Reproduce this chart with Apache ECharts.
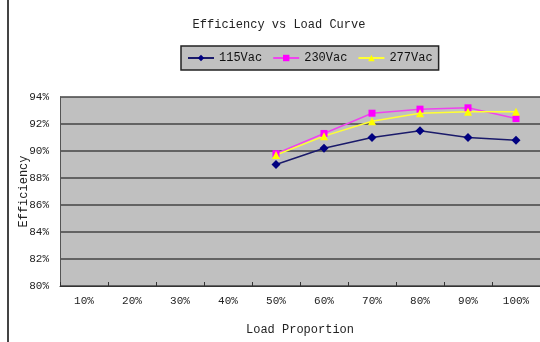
<!DOCTYPE html>
<html><head><meta charset="utf-8">
<script src="https://cdn.jsdelivr.net/npm/echarts@6/dist/echarts.min.js"></script>
<style>html,body{margin:0;padding:0;background:#fff}#c{width:540px;height:342px}</style>
</head><body><div id="c"></div>
<script>
var categories = ['10%','20%','30%','40%','50%','60%','70%','80%','90%','100%'];
var v115 = [null,null,null,null,89.0,90.2,91.0,91.5,91.0,90.8];
var v230 = [null,null,null,null,89.8,91.3,92.8,93.1,93.2,92.4];
var v277 = [null,null,null,null,89.7,91.1,92.2,92.8,92.9,92.9];
var seriesNames = ['115Vac','230Vac','277Vac'];
var font = '"Liberation Mono", "DejaVu Sans Mono", monospace';
var chart = echarts.init(document.getElementById('c'));
chart.setOption({
  animation:false,
  backgroundColor:'#fff',
  title:{text:'Efficiency vs Load Curve',left:274,top:14,textAlign:'center',
    textStyle:{fontFamily:font,fontSize:12,fontWeight:'normal',color:'#222'}},
  legend:{data:seriesNames,left:181,top:46,padding:[6,6,6,6],
    backgroundColor:'#c0c0c0',borderColor:'#222',borderWidth:1.5,itemGap:10,itemWidth:26,itemHeight:8,
    textStyle:{fontFamily:font,fontSize:12,color:'#111'}},
  graphic:[{type:'line',shape:{x1:8,y1:0,x2:8,y2:342},style:{stroke:'#444',lineWidth:2}}],
  grid:{left:60,top:97,width:482,height:189,backgroundColor:'#c0c0c0',show:true,borderWidth:0},
  xAxis:{type:'category',data:categories,boundaryGap:true,
    name:'Load Proportion',nameLocation:'middle',nameGap:38,
    nameTextStyle:{fontFamily:font,fontSize:12,color:'#222'},
    axisLine:{lineStyle:{color:'#333',width:1}},
    axisTick:{show:true,length:-4,lineStyle:{color:'#333'}},
    axisLabel:{fontFamily:font,fontSize:11,color:'#222',margin:10}},
  yAxis:{type:'value',min:80,max:94,interval:2,
    name:'Efficiency',nameLocation:'middle',nameGap:30,nameRotate:90,nameMoveOverlap:false,
    nameTextStyle:{fontFamily:font,fontSize:12,color:'#222'},
    axisLine:{show:true,lineStyle:{color:'#555'}},axisTick:{show:false},
    axisLabel:{fontFamily:font,fontSize:11,color:'#222',margin:11,formatter:function(v){return v+'%';}},
    splitLine:{show:true,lineStyle:{color:'#444',width:1.5}}},
  series:[
    {name:seriesNames[0],type:'line',data:v115,symbol:'diamond',symbolSize:9,
      itemStyle:{color:'#000080'},lineStyle:{color:'#1a1a6a',width:1.5}},
    {name:seriesNames[1],type:'line',data:v230,symbol:'rect',symbolSize:7,
      itemStyle:{color:'#ff00ff'},lineStyle:{color:'#ee44ee',width:1.5}},
    {name:seriesNames[2],type:'line',data:v277,symbol:'triangle',symbolSize:8,
      itemStyle:{color:'#ffff00'},lineStyle:{color:'#ffff33',width:1.5}}
  ]
});
</script></body></html>
